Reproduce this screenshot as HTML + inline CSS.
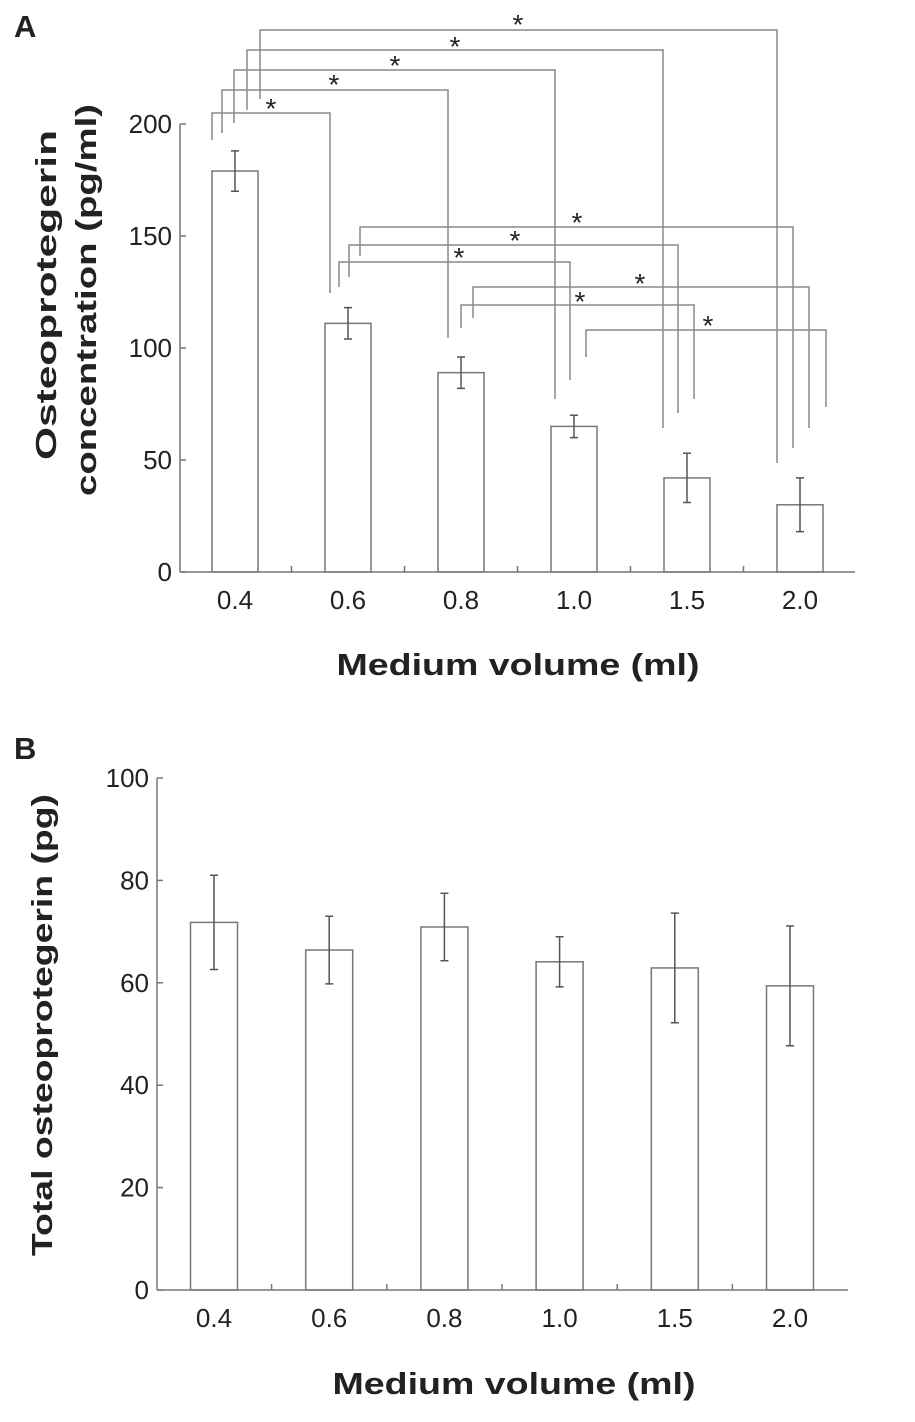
<!DOCTYPE html>
<html><head><meta charset="utf-8"><style>
body{margin:0;background:#fff;}
svg text{font-family:"Liberation Sans",Arial,sans-serif;fill:#222;}
</style></head><body>
<svg id="chart" width="915" height="1417" viewBox="0 0 915 1417" xmlns="http://www.w3.org/2000/svg">
<text x="14" y="37" font-size="31" font-weight="bold">A</text>
<text x="14" y="759" font-size="31" font-weight="bold">B</text>
<text transform="translate(56,295) rotate(-90)" text-anchor="middle" font-size="29" font-weight="bold" textLength="330" lengthAdjust="spacingAndGlyphs">Osteoprotegerin</text>
<text transform="translate(96,300) rotate(-90)" text-anchor="middle" font-size="29" font-weight="bold" textLength="392" lengthAdjust="spacingAndGlyphs">concentration (pg/ml)</text>
<text x="518" y="675" text-anchor="middle" font-size="31" font-weight="bold" textLength="363" lengthAdjust="spacingAndGlyphs">Medium volume (ml)</text>
<text transform="translate(52,1025) rotate(-90)" text-anchor="middle" font-size="29" font-weight="bold" textLength="462" lengthAdjust="spacingAndGlyphs">Total osteoprotegerin (pg)</text>
<text x="514" y="1394" text-anchor="middle" font-size="31" font-weight="bold" textLength="363" lengthAdjust="spacingAndGlyphs">Medium volume (ml)</text>
<g id="ga"></g><g id="gb"></g>
</svg>
<script>
const categories=["0.4","0.6","0.8","1.0","1.5","2.0"];
const concValues=[179,111,89,65,42,30];
const concErrors=[9,7,7,5,11,12];
const concTicks=[0,50,100,150,200];
const totalValues=[71.8,66.4,70.9,64.1,62.9,59.4];
const totalErrors=[9.2,6.6,6.6,4.9,10.7,11.7];
const totalTicks=[0,20,40,60,80,100];
// significance comparisons: [left category index, right category index]
const comparisons=[[0,1],[0,2],[0,3],[0,4],[0,5],[1,3],[1,4],[1,5],[2,4],[2,5],[3,5]];
// annotation layout (pixels): leftX, leftBottom, top, rightX, rightBottom, starX, starY
const bracketLayout=[
[212,140,113,330,293,271,104],[222,133,90,448,338,334,80],[234,123,70,555,399,395,61],[247,110,50,663,428,455,42],[260,99,30,777,463,518,20],
[339,287,262,570,380,459,253],[349,277,245,678,413,515,236],[360,256,227,793,448,577,218],
[461,328,305,694,399,580,297],[473,318,287,809,428,640,279],[586,357,330,826,407,708,321]
];
const NS="http://www.w3.org/2000/svg";
function el(parent,tag,attrs){const e=document.createElementNS(NS,tag);for(const k in attrs)e.setAttribute(k,attrs[k]);parent.appendChild(e);return e;}
const stroke="#777";
function drawPanel(g,o){
  const xs=i=>o.x0+i*o.step, ys=v=>o.yBase-v*o.yScale;
  let ax=el(g,'line',{x1:o.axisX,y1:o.yBase,x2:o.axisX,y2:ys(o.ticks[o.ticks.length-1]),stroke:stroke,'stroke-width':1.5});
  
  
  let bx=el(g,'line',{x1:o.axisX,y1:o.yBase,x2:o.axisEnd,y2:o.yBase,stroke:stroke,'stroke-width':1.5});
  
  
  o.ticks.forEach(t=>{
    el(g,'line',{x1:o.axisX,y1:ys(t),x2:o.axisX+6,y2:ys(t),stroke:stroke,'stroke-width':1.5});
    const tx=el(g,'text',{x:o.axisX-8,y:ys(t)+9,'text-anchor':'end','font-size':26});
    tx.textContent=t;
    
    
  });
  for(let i=0;i<categories.length-1;i++){
    const mx=(xs(i)+xs(i+1))/2;
    el(g,'line',{x1:mx,y1:o.yBase,x2:mx,y2:o.yBase-6,stroke:stroke,'stroke-width':1.5});
  }
  categories.forEach((c,i)=>{
    const cx=xs(i),v=o.vals[i],e=o.errs[i];
    const r=el(g,'rect',{x:cx-o.bw/2,y:ys(v),width:o.bw,height:o.yBase-ys(v),fill:'none',stroke:stroke,'stroke-width':1.5});
    
    
    const eb=el(g,'path',{d:`M${cx},${ys(v+e)}V${ys(v-e)}M${cx-4},${ys(v+e)}h8M${cx-4},${ys(v-e)}h8`,stroke:'#555','stroke-width':1.5,fill:'none'});
    
    
    const t=el(g,'text',{x:cx,y:o.yBase+37,'text-anchor':'middle','font-size':26});
    t.textContent=c;
    
    
  });
}
drawPanel(document.getElementById('ga'),{p:'a',x0:235,step:113,bw:46,yBase:572,yScale:2.24,axisX:180,axisEnd:855,ticks:concTicks,vals:concValues,errs:concErrors});
drawPanel(document.getElementById('gb'),{p:'b',x0:214,step:115.2,bw:47,yBase:1290,yScale:5.12,axisX:157,axisEnd:848,ticks:totalTicks,vals:totalValues,errs:totalErrors});
const ga=document.getElementById('ga');
comparisons.forEach((c,k)=>{
  const [lx,lb,top,rx,rb,sx,sy]=bracketLayout[k];
  const p=el(ga,'path',{d:`M${lx},${lb}V${top}H${rx}V${rb}`,fill:'none',stroke:'#888','stroke-width':1.5});
  
  
  const s=el(ga,'text',{x:sx,y:sy+14,'text-anchor':'middle','font-size':28});
  s.textContent='*';
  
  
});
</script>
</body></html>
